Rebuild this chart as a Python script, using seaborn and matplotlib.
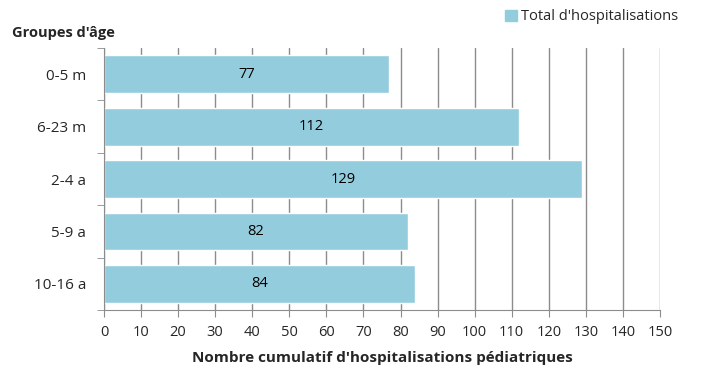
import numpy as np
import pandas as pd
import seaborn as sns
import matplotlib.pyplot as plt
from matplotlib.patches import Patch

groupes = ['0-5 m', '6-23 m', '2-4 a', '5-9 a', '10-16 a']
totaux = [77, 112, 129, 82, 84]

if __name__ == '__main__':
    sns.set_style('white')
    plt.rcParams['font.family'] = ['Open Sans', 'DejaVu Sans']
    df = pd.DataFrame({'groupe': groupes, 'total': totaux})

    fig = plt.figure(figsize=(7.24, 3.73), dpi=100)
    ax = fig.add_axes([0.1436, 0.169, 0.768, 0.702])
    couleur = '#93CDDD'
    sns.barplot(data=df, x='total', y='groupe', orient='h', color=couleur,
                saturation=1, width=0.72, ax=ax)

    for i, v in enumerate(totaux):
        ax.text(v / 2, i, str(v), ha='center', va='center', fontsize=10.5, color='black')

    ax.set_xlim(0, 150)
    ax.set_ylim(4.5, -0.5)
    ax.set_xticks(np.arange(0, 151, 10))
    ax.xaxis.grid(True, color='#8c8c8c', linewidth=1)
    ax.set_axisbelow(True)
    for s in ['top', 'right']:
        ax.spines[s].set_visible(False)
    for s in ['left', 'bottom']:
        ax.spines[s].set_color('#8c8c8c')
    ax.tick_params(axis='x', length=5, color='#8c8c8c', labelsize=10.5, pad=6, bottom=True)
    ax.tick_params(axis='y', length=0, labelsize=11, pad=13)
    ax.set_yticks(np.arange(-0.5, 5, 1), minor=True)
    ax.tick_params(axis='y', which='minor', length=5, color='#8c8c8c', left=True)

    ax.set_xlabel("Nombre cumulatif d'hospitalisations pédiatriques", fontsize=11,
                  fontweight='bold', labelpad=8)
    ax.set_ylabel('')
    fig.text(0.017, 0.912, "Groupes d'âge", fontsize=10.5, fontweight='bold', va='center')

    fig.legend(handles=[Patch(color=couleur)], labels=["Total d'hospitalisations"],
               loc='center right', bbox_to_anchor=(0.955, 0.955), frameon=False,
               fontsize=10.5, handlelength=0.8, handleheight=0.8, handletextpad=0.3)

    fig.savefig('out.png', dpi=100)
